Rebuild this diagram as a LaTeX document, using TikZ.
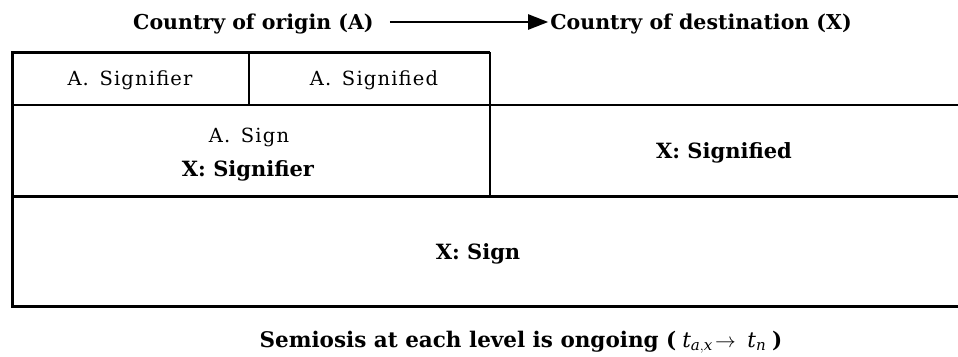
\documentclass[tikz,border=0pt]{standalone}
\usepackage{fontspec}
\setmainfont{DejaVu Serif}
\newfontfamily\cellfont[LetterSpace=6]{DejaVu Serif}
\usetikzlibrary{arrows.meta}
\begin{document}
\begin{tikzpicture}[x=1pt,y=-1pt,
  lbl/.style={font=\fontsize{19.5}{22}\cellfont, inner sep=0pt, anchor=base},
  blbl/.style={font=\fontsize{21}{24}\selectfont\bfseries, inner sep=0pt, anchor=base},
  ttl/.style={font=\fontsize{20.5}{23}\selectfont\bfseries, inner sep=0pt},
  btm/.style={font=\fontsize{21.5}{24}\selectfont\bfseries, inner sep=0pt},
  outerline/.style={line width=3pt},
  innerline/.style={line width=2pt},
  arr/.style={line width=2.2pt, -{Triangle[length=20pt,width=15pt]}}]
\useasboundingbox (0,0) rectangle (958,356);
% title
\node[ttl, anchor=base west] (orig) at (133,29) {Country of origin (A)};
\node[ttl, anchor=base east] (dest) at (852,29) {Country of destination (X)};
\draw[arr] ([xshift=16pt,yshift=7pt]orig.base east) -- ([xshift=-2pt,yshift=7pt]dest.base west);
% table
\draw[outerline] (490,52) -- (12,52) -- (12,306) -- (960,306);
\draw[innerline] (12,105) -- (960,105);
\draw[outerline] (12,196) -- (960,196);
\draw[innerline] (490,52) -- (490,196);
\draw[innerline] (249,52) -- (249,105);
% cell texts
\node[lbl] (asignifier) at (130,85) {A.\ \,Signifier};
\node[lbl] (asignified) at (374,85) {A.\ \,Signified};
\node[lbl] (asign) at (249,142) {A.\ \,Sign};
\node[blbl] (xsignifier) at (248,176) {X: Signifier};
\node[blbl] (xsignified) at (724,158) {X: Signified};
\node[blbl] (xsign) at (478,259) {X: Sign};
% bottom
\node[btm, anchor=base] (semiosis) at (521,347) {Semiosis at each level is ongoing (\;$\mathbf{\mathit{t}_{\mathit{a,x}}}\!\to\;\mathit{t}_{\mathit{n}}$\;)};
\end{tikzpicture}
\end{document}
